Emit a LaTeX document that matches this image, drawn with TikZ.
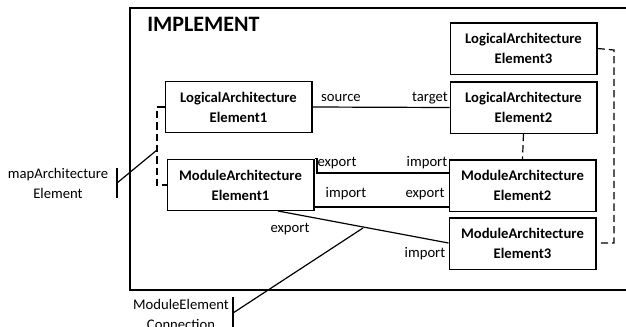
\documentclass[tikz,border=0pt]{standalone}
\usepackage{fontspec}
\setmainfont{Carlito}
\begin{document}
\begin{tikzpicture}[x=0.75pt,y=-0.75pt,
  box/.style={draw,line width=1pt,minimum width=110pt,minimum height=38.5pt,inner sep=0pt,
    align=center,font=\fontsize{11}{15}\selectfont\bfseries},
  lbl/.style={inner sep=0pt,font=\fontsize{11}{14}\selectfont},
  conn/.style={line width=0.9pt},
  dsh/.style={line width=0.9pt,dash pattern=on 5.5pt off 3pt}]
\useasboundingbox (0,0) rectangle (626,326);
\clip (0,0) rectangle (626,326);
% frame
\draw[line width=1pt] (640,8) -- (130,8) -- (130,290) -- (640,290);
\node[anchor=west,inner sep=0pt,font=\fontsize{16.5}{18}\selectfont\bfseries] (title) at (147,24) {IMPLEMENT};
% boxes
\node[box] (lae1) at (238.5,107) {LogicalArchitecture\\Element1};
\node[box] (lae3) at (523.5,48.5) {LogicalArchitecture\\Element3};
\node[box] (lae2) at (523.5,107.5) {LogicalArchitecture\\Element2};
\node[box] (mae1) at (240.5,185) {ModuleArchitecture\\Element1};
\node[box] (mae2) at (522.5,185.5) {ModuleArchitecture\\Element2};
\node[box] (mae3) at (522.5,243.5) {ModuleArchitecture\\Element3};
% connectors
\draw[conn] (lae1.east) -- (lae2.west);
\node[lbl] (src) at (341,98) {source};
\node[lbl] (tgt) at (430,98) {target};
\draw[conn] (mae1.north east) -| (317,173) -- (mae2.west |- 0,173);
\node[lbl] (ex1) at (337,163) {export};
\node[lbl] (im1) at (427,163) {import};
\draw[conn] (mae1.east |- 0,207) -- (mae2.west |- 0,207);
\node[lbl] (im2) at (346,194) {import};
\node[lbl] (ex2) at (425,194) {export};
\coordinate (m1b) at (278,211);
\draw[conn] (m1b) -- (mae3.west |- 0,243);
\node[lbl] (ex3) at (290,229) {export};
\node[lbl] (im3) at (425,254) {import};
% dashed mappings
\draw[dsh] (lae1.west) -- (157,107) -- (157,185) -- (mae1.west);
\draw[dsh] (lae2.south) -- (mae2.north);
\draw[dsh] (lae3.east) -- (614,50) -- (614,243) -- (599,243);
% annotations
\node[lbl,align=center,font=\fontsize{11}{15}\selectfont] (map) at (58,183.5) {mapArchitecture\\Element};
\coordinate (mapb) at (117,183);
\coordinate (mapp) at (157,150);
\draw[conn] (117,168) -- (117,198);
\draw[conn] (mapb) -- (mapp);
\node[lbl,align=center,font=\fontsize{11}{15}\selectfont] (mec) at (181,314.5) {ModuleElement\\Connection};
\coordinate (mecb) at (233,313);
\coordinate (mecp) at (363,228);
\draw[conn] (233,297) -- (233,330);
\draw[conn] (mecb) -- (mecp);
\end{tikzpicture}
\end{document}
